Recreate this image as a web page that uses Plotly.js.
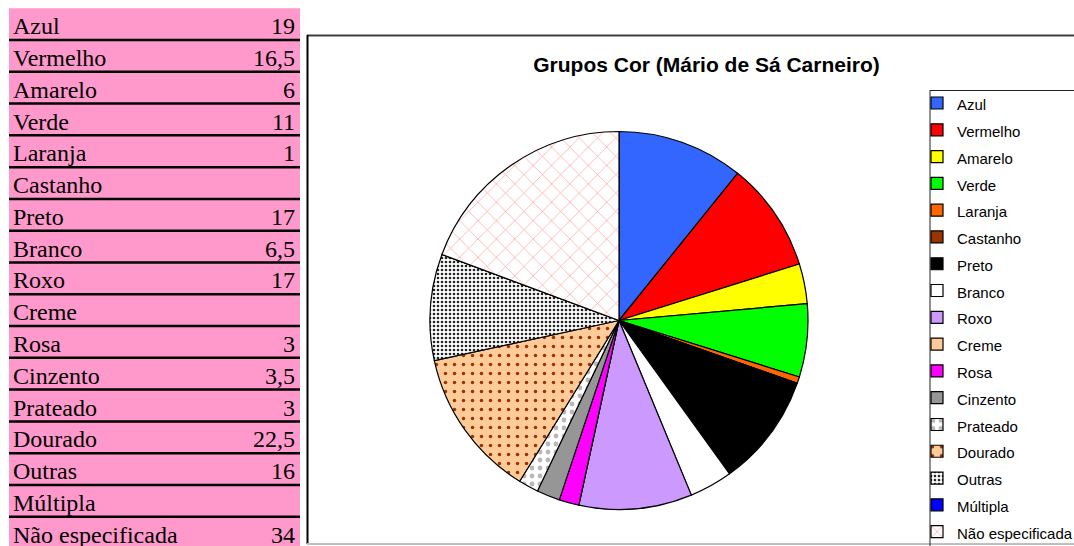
<!DOCTYPE html>
<html><head><meta charset="utf-8">
<script src="https://cdn.plot.ly/plotly-3.0.1.min.js"></script>
<style>html,body{margin:0;padding:0;overflow:hidden;background:#fff}#chart{width:1074px;height:556px}</style>
</head><body><div id="chart"></div>
<script>
const categories = ['Azul','Vermelho','Amarelo','Verde','Laranja','Castanho','Preto','Branco','Roxo','Creme','Rosa','Cinzento','Prateado','Dourado','Outras','Múltipla','Não especificada'];
const values = [19,16.5,6,11,1,0,17,6.5,17,0,3,3.5,3,22.5,16,0,34];
const valueLabels = ['19','16,5','6','11','1','','17','6,5','17','','3','3,5','3','22,5','16','','34'];
const sliceColors = ['#3366FF','#FF0000','#FFFF00','#00FF00','#FF6600','#993300','#000000','#FFFFFF','#CC99FF','#FFCC99','#FF00FF','#969696','#FFFFFF','#FFCC99','#FFFFFF','#0000FF','#FFFFFF'];
const patternShapes = ['','','','','','','','','','','','','.','.','.','','x'];
const patternFg = ['','','','','','','','','','','','','#b8b8b8','#993300','#222222','','#FF9A9A'];
const patternSize = [8,8,8,8,8,8,8,8,8,8,8,8,8,9,4,8,13];
const patternSolidity = [0.3,0.3,0.3,0.3,0.3,0.3,0.3,0.3,0.3,0.3,0.3,0.3,0.28,0.12,0.35,0.3,0.1];
const chartTitle = 'Grupos Cor (Mário de Sá Carneiro)';

const W = 1074, H = 556;
const px = p => p / W;
const py = p => 1 - p / H;
const rowH = 31.78, tableTop = 8.25;

const shapes = [];
shapes.push({type:'rect', xref:'paper', yref:'paper', layer:'below', x0:px(9), x1:px(300), y0:py(tableTop), y1:0, fillcolor:'#FF99CC', line:{width:0}});
for (let k = 1; k < categories.length; k++) {
  const y = tableTop + k * rowH;
  shapes.push({type:'line', xref:'paper', yref:'paper', x0:px(9), x1:px(300), y0:py(y), y1:py(y), line:{color:'#000', width:2.5}});
}
// chart frame
shapes.push({type:'line', xref:'paper', yref:'paper', x0:px(307), x1:1, y0:py(35.5), y1:py(35.5), line:{color:'#404040', width:2}});
shapes.push({type:'line', xref:'paper', yref:'paper', x0:px(307.5), x1:px(307.5), y0:py(35), y1:py(544), line:{color:'#000', width:2}});
shapes.push({type:'line', xref:'paper', yref:'paper', x0:px(307), x1:1, y0:py(544), y1:py(544), line:{color:'#c0c0c0', width:2}});
// legend frame
shapes.push({type:'line', xref:'paper', yref:'paper', x0:px(930), x1:px(930), y0:py(90), y1:0, line:{color:'#222', width:1}});
shapes.push({type:'line', xref:'paper', yref:'paper', x0:px(930), x1:1, y0:py(90.5), y1:py(90.5), line:{color:'#222', width:1}});

const cx = 619, cy = 320.5, r = 189;

const data = [
  {
    type:'table',
    domain:{x:[px(5), px(304)], y:[0, py(tableTop)]},
    columnwidth:[200, 99],
    header:{values:[categories[0], valueLabels[0]], align:['left','right'], height:rowH,
      fill:{color:'rgba(0,0,0,0)'}, line:{color:'rgba(0,0,0,0)', width:0},
      font:{family:'Liberation Serif', size:24, color:'#000'}},
    cells:{values:[categories.slice(1), valueLabels.slice(1)], align:['left','right'], height:rowH,
      fill:{color:'rgba(0,0,0,0)'}, line:{color:'rgba(0,0,0,0)', width:0},
      font:{family:'Liberation Serif', size:24, color:'#000'}}
  },
  {
    type:'pie',
    labels: categories.map(c => '<span style="font-size:15px">' + c + '</span>'),
    values: values,
    sort:false,
    direction:'clockwise',
    rotation:0,
    textinfo:'none',
    hoverinfo:'skip',
    domain:{x:[px(cx - r), px(cx + r)], y:[py(cy + r), py(cy - r)]},
    marker:{colors: sliceColors, line:{color:'#000', width:1.2},
      pattern:{shape: patternShapes, fgcolor: patternFg, bgcolor: sliceColors, size: patternSize, solidity: patternSolidity}}
  }
];

const layout = {
  width:W, height:H,
  margin:{l:0, r:0, t:0, b:0, autoexpand:false},
  paper_bgcolor:'#fff', plot_bgcolor:'#fff',
  title:{text:chartTitle, x:px(706.5), xanchor:'center', xref:'paper', y:py(65), yanchor:'middle', yref:'paper',
    font:{family:'Arial, Liberation Sans', size:21, color:'#000', weight:'bold'}},
  showlegend:true,
  legend:{x:px(917), y:py(84.6), xanchor:'left', yanchor:'top', bgcolor:'rgba(0,0,0,0)', borderwidth:0,
    font:{family:'Arial, Liberation Sans', size:18.3, color:'#000'}, traceorder:'normal'},
  shapes: shapes
};

Plotly.newPlot('chart', data, layout, {displayModeBar:false, staticPlot:true});
</script>
</body></html>
